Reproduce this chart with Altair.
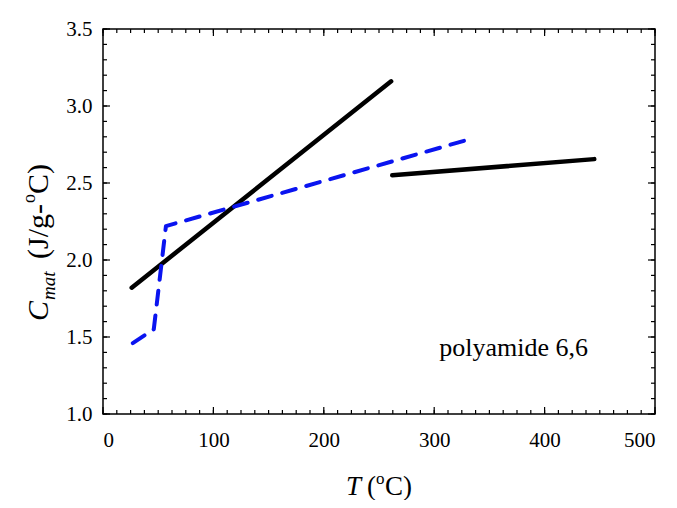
import altair as alt
import pandas as pd

# ---- data ----
black1_T = [26, 261]
black1_C = [1.82, 3.16]
black2_T = [262, 445]
black2_C = [2.55, 2.655]
blue_T = [27, 46, 57, 330]
blue_C = [1.46, 1.55, 2.22, 2.78]

x_major = [0, 100, 200, 300, 400, 500]
y_major = [1.0, 1.5, 2.0, 2.5, 3.0, 3.5]
x_minor = [i * 12.5 for i in range(41)]
y_minor = [round(1.0 + i * 0.1, 2) for i in range(26)]

note_text = ["polyamide 6,6"]
note_T = [372]
note_C = [1.43]

W, H = 552, 385
SERIF = "Liberation Serif"

xs = alt.Scale(domain=[0, 500], nice=False)
ys = alt.Scale(domain=[1.0, 3.5], nice=False)

def line_df(T, C):
    return pd.DataFrame({"T": T, "C": C, "o": list(range(len(T)))})

base_axes = alt.Chart(line_df(black1_T, black1_C)).mark_line(
    color="black", strokeWidth=4.5, strokeCap="round"
).encode(
    x=alt.X("T:Q", scale=xs, axis=alt.Axis(
        values=x_major, title=None, ticks=False, domain=False, grid=False,
        labelFont=SERIF, labelFontSize=21, labelColor="black", labelPadding=15,
        tickSize=0)),
    y=alt.Y("C:Q", scale=ys, axis=alt.Axis(
        values=y_major, format=".1f", title=None, ticks=False, domain=False,
        grid=False, labelFont=SERIF, labelFontSize=21, labelColor="black",
        labelPadding=11, tickSize=0)),
    order="o:Q",
)

black2 = alt.Chart(line_df(black2_T, black2_C)).mark_line(
    color="black", strokeWidth=4.5, strokeCap="round"
).encode(x=alt.X("T:Q", scale=xs), y=alt.Y("C:Q", scale=ys), order="o:Q")

blue = alt.Chart(line_df(blue_T, blue_C)).mark_line(
    color="#0a14f0", strokeWidth=4, strokeDash=[14, 11], strokeCap="round",
    strokeJoin="round"
).encode(x=alt.X("T:Q", scale=xs), y=alt.Y("C:Q", scale=ys), order="o:Q")

# ---- inward ticks ----
def xticks(vals, length):
    d = pd.DataFrame({"T": vals})
    bot = alt.Chart(d).mark_rule(color="black", strokeWidth=1.2).encode(
        x=alt.X("T:Q", scale=xs), y=alt.value(H), y2=alt.value(H - length))
    top = alt.Chart(d).mark_rule(color="black", strokeWidth=1.2).encode(
        x=alt.X("T:Q", scale=xs), y=alt.value(0), y2=alt.value(length))
    return [bot, top]

def yticks(vals, length):
    d = pd.DataFrame({"C": vals})
    left = alt.Chart(d).mark_rule(color="black", strokeWidth=1.2).encode(
        y=alt.Y("C:Q", scale=ys), x=alt.value(0), x2=alt.value(length))
    right = alt.Chart(d).mark_rule(color="black", strokeWidth=1.2).encode(
        y=alt.Y("C:Q", scale=ys), x=alt.value(W), x2=alt.value(W - length))
    return [left, right]

ticks = xticks(x_minor, 4) + xticks(x_major, 7) + yticks(y_minor, 4) + yticks(y_major, 7)

note = alt.Chart(pd.DataFrame({"T": note_T, "C": note_C, "t": note_text})).mark_text(
    font=SERIF, fontSize=26, color="black", align="center", baseline="middle"
).encode(x=alt.X("T:Q", scale=xs), y=alt.Y("C:Q", scale=ys), text="t:N")

# ---- composite axis titles ----
def piece(text, x, y, size, italic=False, angle=0):
    kw = dict(font=SERIF, fontSize=size, color="black", align="left",
              baseline="alphabetic")
    if italic:
        kw["fontStyle"] = "italic"
    if angle:
        kw["angle"] = angle
    return alt.Chart(pd.DataFrame({"t": [text]})).mark_text(**kw).encode(
        x=alt.value(x), y=alt.value(y), text="t:N")

xt_y = 466
x_title = [
    piece("T", 243, xt_y, 27, italic=True),
    piece("(", 264, xt_y, 27),
    piece("o", 273, xt_y - 11, 17),
    piece("C)", 282, xt_y, 27),
]

yb = -55
y_title = [
    piece("C", yb, 292, 30, italic=True, angle=270),
    piece("mat", yb + 7, 271, 19, italic=True, angle=270),
    piece("(J/g-", yb, 230, 30, angle=270),
    piece("o", yb - 13, 174, 18, angle=270),
    piece("C)", yb, 165, 30, angle=270),
]

chart = alt.layer(
    base_axes, black2, blue, note, *ticks, *x_title, *y_title
).properties(
    width=W, height=H,
    autosize=alt.AutoSizeParams(type="none"),
    padding={"left": 95, "top": 21, "right": 14, "bottom": 86},
    background="white",
).configure_view(stroke="black", strokeWidth=1.5)

chart.save("out.html", embed_options={"renderer": "svg", "actions": False})
